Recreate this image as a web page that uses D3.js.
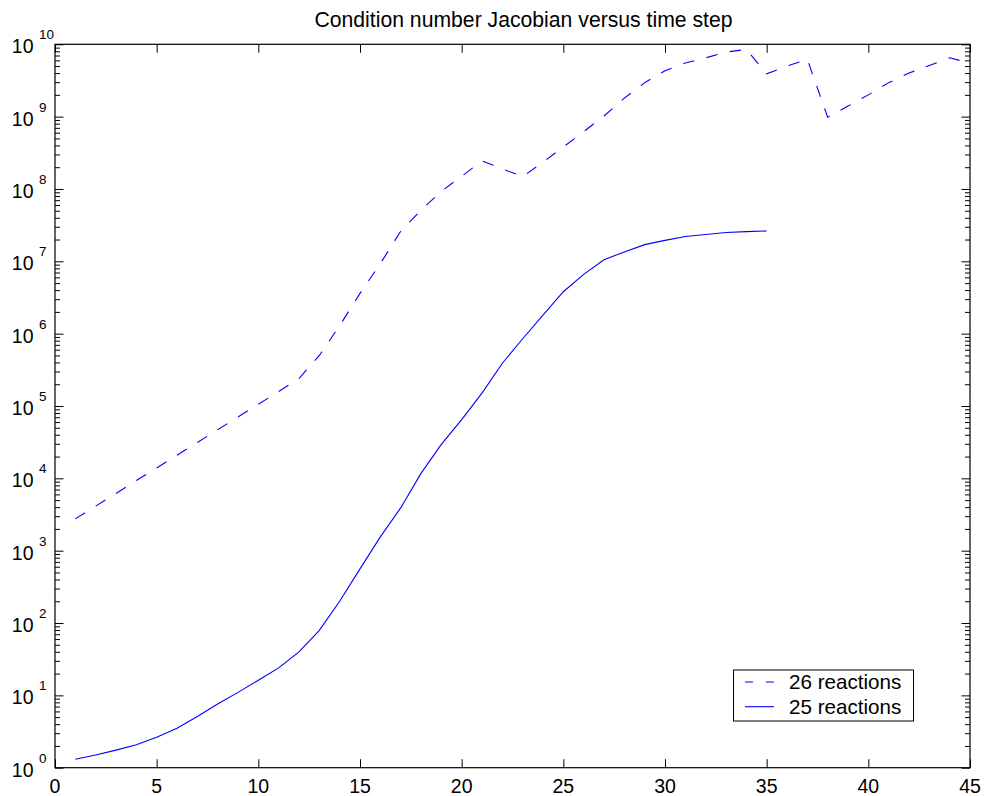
<!DOCTYPE html>
<html>
<head>
<meta charset="utf-8">
<script src="https://cdn.jsdelivr.net/npm/d3@7"></script>
<style>
  html, body { margin: 0; padding: 0; background: #fff; }
  svg { display: block; font-family: "Liberation Sans", Arial, Helvetica, sans-serif; }
</style>
</head>
<body>
<svg id="chart" width="985" height="796"></svg>
<script>
// Time steps and Jacobian condition numbers for the two reaction sets
const steps26 = d3.range(1, 46);
const cond26 = [
  2750, 4130, 6170, 9330, 13900, 20900, 31300, 47000, 70500, 106000,
  158000, 240000, 500000, 1.29e6, 3.6e6, 9.3e6, 2.6e7, 5.1e7, 9.3e7, 1.5e8,
  2.45e8, 1.9e8, 1.48e8, 2.35e8, 3.8e8, 6.2e8, 1.02e9, 1.8e9, 2.95e9, 4.3e9,
  5.5e9, 6.5e9, 7.8e9, 8.5e9, 3.9e9, 5.0e9, 6.2e9, 9.8e8, 1.4e9, 2.0e9,
  2.95e9, 4.0e9, 5.1e9, 6.5e9, 5.5e9
];
const steps25 = d3.range(1, 36);
const cond25 = [
  1.31, 1.50, 1.75, 2.07, 2.63, 3.52, 5.1, 7.6, 11.0, 16.2,
  24, 40, 79, 200, 560, 1550, 3900, 11700, 29500, 65000,
  151000, 390000, 850000, 1.8e6, 3.8e6, 6.6e6, 1.05e7, 1.35e7, 1.7e7, 1.95e7,
  2.2e7, 2.35e7, 2.5e7, 2.57e7, 2.63e7
];

const xTicks = [0, 5, 10, 15, 20, 25, 30, 35, 40, 45];
const yExponents = [0, 1, 2, 3, 4, 5, 6, 7, 8, 9, 10];
const seriesNames = ["26 reactions", "25 reactions"];
const titleText = "Condition number Jacobian versus time step";

const svg = d3.select("#chart");
const L = 55, R = 970, T = 44.3, B = 767.7;

const x = d3.scaleLinear().domain([0, 45]).range([L, R]);
const y = d3.scaleLog().domain([1, 1e10]).range([B, T]);

const majorY = yExponents.map(e => Math.pow(10, e));
const minorY = [];
yExponents.slice(0, -1).forEach(e => {
  for (let m = 2; m <= 9; m++) minorY.push(m * Math.pow(10, e));
});

// Inward ticks on all four sides
function styleAxis(g) {
  g.select(".domain").remove();
  g.selectAll(".tick line").attr("stroke", "#000").attr("stroke-width", 1);
  g.selectAll(".tick text").remove();
}
svg.append("g").attr("transform", `translate(0,${B})`)
  .call(d3.axisBottom(x).tickValues(xTicks).tickSize(-8.5)).call(styleAxis);
svg.append("g").attr("transform", `translate(0,${T})`)
  .call(d3.axisTop(x).tickValues(xTicks).tickSize(-8.5)).call(styleAxis);
svg.append("g").attr("transform", `translate(${L},0)`)
  .call(d3.axisLeft(y).tickValues(majorY).tickSize(-8.5)).call(styleAxis);
svg.append("g").attr("transform", `translate(${R},0)`)
  .call(d3.axisRight(y).tickValues(majorY).tickSize(-8.5)).call(styleAxis);
svg.append("g").attr("transform", `translate(${L},0)`)
  .call(d3.axisLeft(y).tickValues(minorY).tickSize(-5)).call(styleAxis);
svg.append("g").attr("transform", `translate(${R},0)`)
  .call(d3.axisRight(y).tickValues(minorY).tickSize(-5)).call(styleAxis);

// Plot frame
svg.append("rect")
  .attr("x", L).attr("y", T).attr("width", R - L).attr("height", B - T)
  .attr("fill", "none").attr("stroke", "#000").attr("stroke-width", 1.2);

// X tick labels
svg.append("g").selectAll("text").data(xTicks).join("text")
  .attr("x", d => x(d)).attr("y", B + 25)
  .attr("text-anchor", "middle").attr("font-size", 19.5).attr("fill", "#000")
  .text(d => d);

// Y tick labels: 10 with a superscript exponent
const yl = svg.append("g").selectAll("g").data(yExponents).join("g")
  .attr("transform", e => `translate(0,${y(Math.pow(10, e))})`);
yl.append("text").attr("x", 33.5).attr("y", 9)
  .attr("text-anchor", "end").attr("font-size", 19.5).attr("fill", "#000").text("10");
yl.append("text").attr("x", 39).attr("y", -5)
  .attr("text-anchor", "start").attr("font-size", 13.5).attr("fill", "#000").text(e => e);

// Title
svg.append("text").attr("x", 523.5).attr("y", 27)
  .attr("text-anchor", "middle").attr("font-size", 21.2).attr("fill", "#000")
  .text(titleText);

// Series lines
const line = d3.line().x(d => x(d[0])).y(d => y(d[1]));
const data26 = steps26.map((s, i) => [s, cond26[i]]);
const data25 = steps25.map((s, i) => [s, cond25[i]]);

svg.append("path").datum(data26).attr("d", line)
  .attr("fill", "none").attr("stroke", "#0000ff").attr("stroke-width", 1.1)
  .attr("stroke-dasharray", "11.5,12.5");
svg.append("path").datum(data25).attr("d", line)
  .attr("fill", "none").attr("stroke", "#0000ff").attr("stroke-width", 1.1);

// Legend
const lg = svg.append("g");
lg.append("rect").attr("x", 733.5).attr("y", 670).attr("width", 180).attr("height", 51)
  .attr("fill", "#fff").attr("stroke", "#000").attr("stroke-width", 1);
const rows = [{ name: seriesNames[0], dash: "8,13" }, { name: seriesNames[1], dash: null }];
rows.forEach((r, i) => {
  const ry = 682 + i * 24.7;
  lg.append("line").attr("x1", 745).attr("x2", 774).attr("y1", ry).attr("y2", ry)
    .attr("stroke", "#0000ff").attr("stroke-width", 1.1)
    .attr("stroke-dasharray", r.dash);
  lg.append("text").attr("x", 789).attr("y", ry + 7).attr("font-size", 20.6)
    .attr("fill", "#000").text(r.name);
});
</script>
</body>
</html>
